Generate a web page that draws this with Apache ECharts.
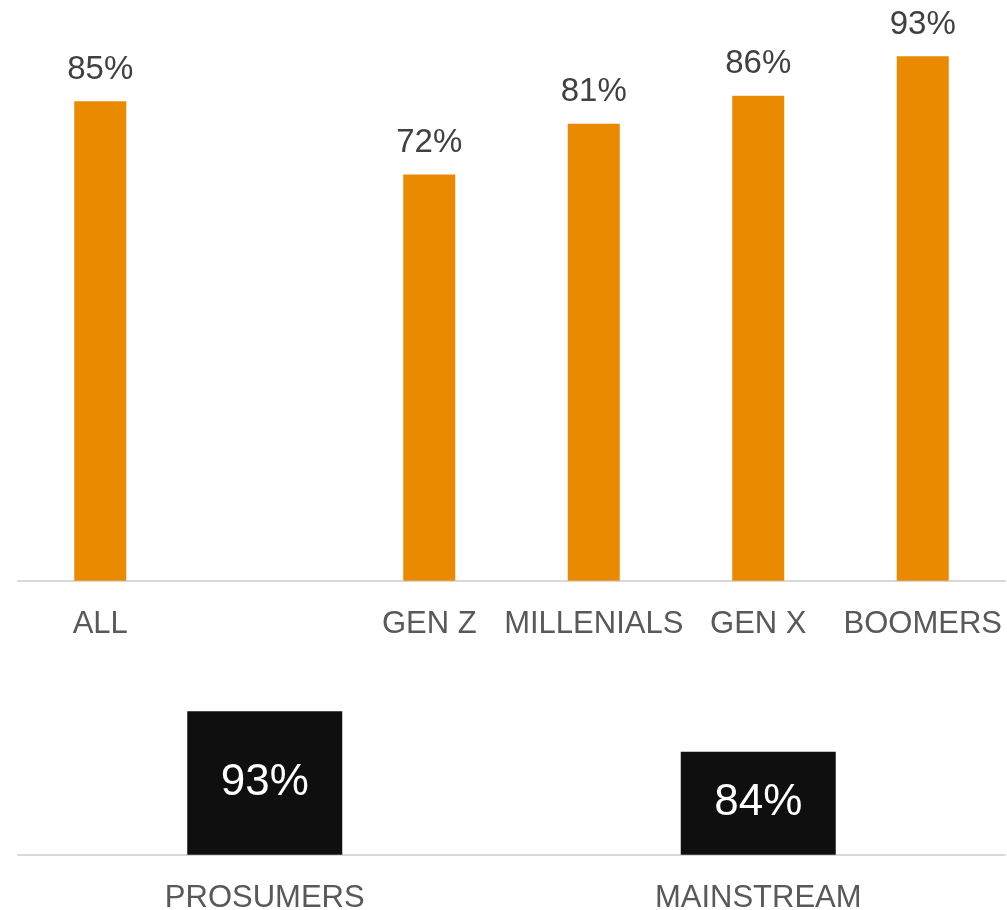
<!DOCTYPE html>
<html>
<head>
<meta charset="utf-8">
<script src="https://cdn.jsdelivr.net/npm/echarts@6/dist/echarts.min.js"></script>
<style>
  html, body { margin: 0; padding: 0; background: #fff; }
  #chart { width: 1007px; height: 910px; }
</style>
</head>
<body>
<div id="chart"></div>
<script>
// top chart: all + generations (the blank slot is a gap in the original)
const genCategories = ["ALL", "", "GEN Z", "MILLENIALS", "GEN X", "BOOMERS"];
const genValues = [85, null, 72, 81, 86, 93];

// bottom chart: segments
const segCategories = ["PROSUMERS", "MAINSTREAM"];
const segValues = [93, 84];

const FONT = "'Liberation Sans', Arial, sans-serif";

const chart = echarts.init(document.getElementById("chart"));

chart.setOption({
    animation: false,
    grid: [
        { left: 18, right: 2, top: 16.7, bottom: 329.3, outerBoundsMode: "none" },
        { left: 18, right: 2, top: 680, bottom: 55.3, outerBoundsMode: "none" }
    ],
    xAxis: [
        {
            type: "category",
            gridIndex: 0,
            data: genCategories,
            axisLine: { lineStyle: { color: "#d9d9d9", width: 2 } },
            axisTick: { show: false },
            axisLabel: { color: "#595959", fontSize: 31, fontFamily: FONT, margin: 28, interval: 0 }
        },
        {
            type: "category",
            gridIndex: 1,
            data: segCategories,
            axisLine: { lineStyle: { color: "#d9d9d9", width: 2 } },
            axisTick: { show: false },
            axisLabel: { color: "#595959", fontSize: 31, fontFamily: FONT, margin: 28, interval: 0 }
        }
    ],
    yAxis: [
        { type: "value", gridIndex: 0, min: 0, max: 100, show: false },
        { type: "value", gridIndex: 1, min: 61, max: 100, show: false }
    ],
    series: [
        {
            type: "bar",
            xAxisIndex: 0,
            yAxisIndex: 0,
            data: genValues,
            barWidth: 52,
            itemStyle: { color: "#ea8a00" },
            label: {
                show: true,
                position: "top",
                distance: 15,
                color: "#404040",
                fontSize: 33,
                fontFamily: FONT,
                formatter: p => p.value + "%"
            }
        },
        {
            type: "bar",
            xAxisIndex: 1,
            yAxisIndex: 1,
            data: segValues,
            barWidth: 155,
            itemStyle: { color: "#0f0f0f" },
            label: {
                show: true,
                position: "inside",
                color: "#ffffff",
                fontSize: 44,
                fontFamily: FONT,
                formatter: p => p.value + "%"
            }
        }
    ]
});
</script>
</body>
</html>
